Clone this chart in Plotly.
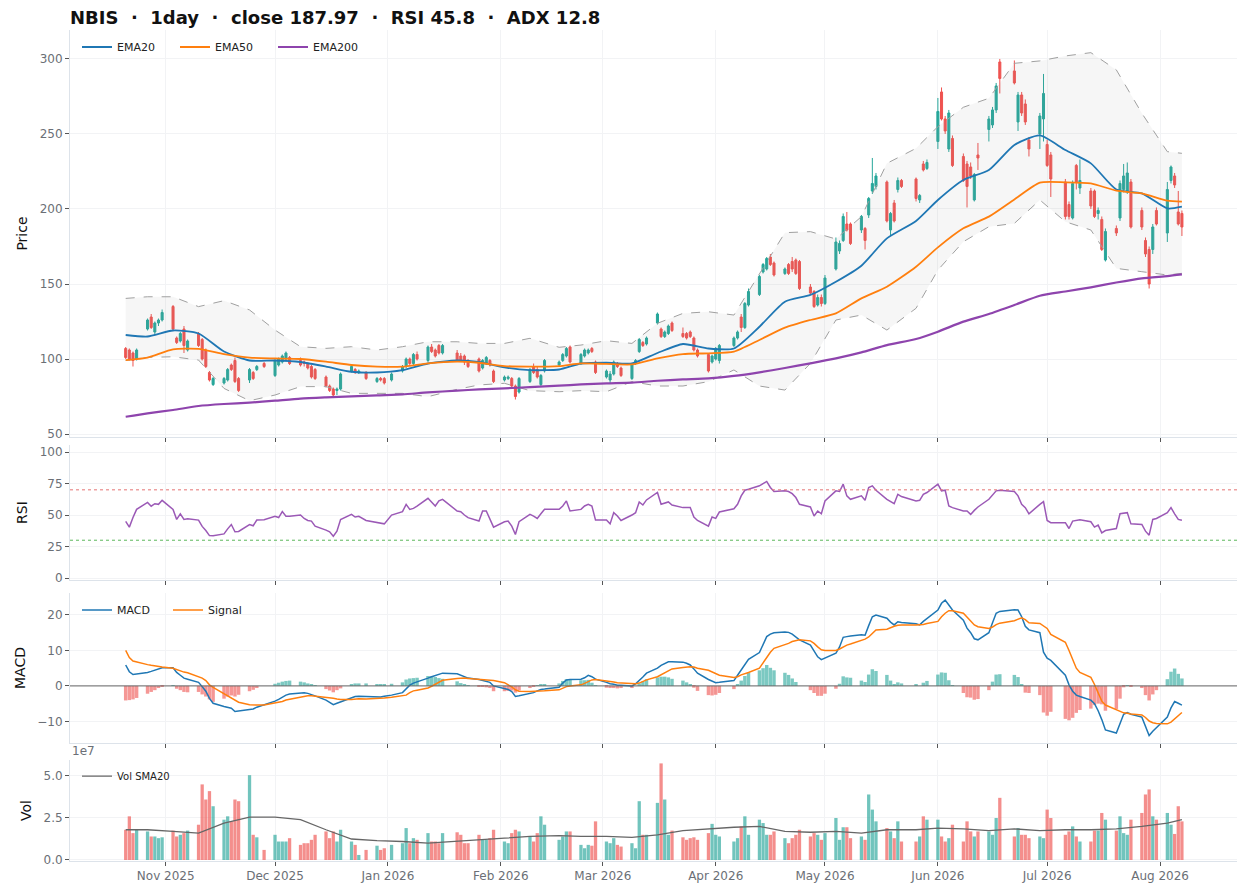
import pandas as pd
import plotly.graph_objects as go
from plotly.subplots import make_subplots

# trading days (weekday calendar minus US market holidays)
holidays = ["2025-11-27", "2025-12-25", "2026-01-01", "2026-01-19", "2026-02-16",
            "2026-04-03", "2026-05-25", "2026-06-19", "2026-07-03"]
dates = pd.bdate_range("2025-10-21", "2026-08-07")
dates = dates[~dates.isin(pd.to_datetime(holidays))]

# daily candles, one row per week
open_ = [107, 106, 104, 100,
         120, 128, 118, 124, 126,
         135, 114, 112, 120, 106,
         117, 113, 106, 91, 83,
         84, 86, 96, 99, 87,
         86, 91, 93, 97,
         89, 96, 98, 100, 101,
         99, 98, 97, 95, 93,
         88, 82, 80, 79, 80,
         92, 93, 91, 91,
         85, 87, 87, 86,
         92, 95, 100, 97, 103,
         99, 108, 106, 109, 104,
         104, 102, 102, 99,
         100, 94, 97, 99, 92,
         86, 87, 87, 82, 78,
         85, 95, 93, 83, 92,
         96, 99, 102, 108,
         97, 102, 104, 107, 98,
         88, 86, 90, 97, 94,
         87, 97, 105, 111, 110,
         124, 120, 115, 117, 124,
         117, 117, 118, 114, 106,
         103, 98, 100, 99,
         109, 114, 128, 121, 136,
         143, 158, 160, 168, 164,
         157, 163, 165, 166, 165,
         148, 145, 136, 141, 137,
         160, 172, 179, 190, 190,
         186, 187, 196, 212, 215,
         218, 186, 204, 213, 219,
         220, 206, 230, 227,
         245, 278, 260, 240, 247,
         235, 230, 228, 206, 236,
         253, 256, 266, 298,
         292, 258, 276, 270, 246,
         250, 260, 243, 236,
         218, 203, 194, 229, 214,
         212, 212, 197, 193, 166,
         187, 194, 213, 212, 218,
         199, 179, 173, 173, 199,
         184, 219, 222, 198, 197]
high = [108, 107, 105, 107,
        127, 130, 125, 127, 133,
        136, 115, 118, 122, 113,
        118, 114, 107, 92, 88,
        88, 94, 97, 101, 88,
        94, 92, 96, 98,
        100, 101, 103, 105, 102,
        101, 99, 98, 96, 94,
        89, 83, 81, 81, 91,
        96, 94, 93, 92,
        88, 88, 88, 91,
        96, 101, 101, 104, 105,
        109, 110, 107, 110, 110,
        106, 104, 103, 100,
        101, 100, 102, 100, 93,
        89, 89, 88, 83, 88,
        94, 97, 95, 90, 100,
        99, 104, 108, 109,
        104, 107, 107, 108, 99,
        93, 92, 99, 98, 95,
        97, 100, 114, 112, 115,
        131, 121, 119, 123, 125,
        121, 118, 119, 115, 107,
        104, 103, 108, 110,
        115, 119, 130, 138, 147,
        156, 164, 168, 170, 165,
        161, 164, 168, 167, 166,
        150, 146, 143, 143, 156,
        181, 179, 197, 198, 191,
        196, 188, 208, 234, 224,
        219, 198, 206, 221, 220,
        221, 210, 232, 233,
        274, 281, 262, 266, 249,
        237, 232, 231, 224, 244,
        262, 268, 284, 300,
        299, 278, 278, 273, 248,
        264, 290, 246, 238,
        220, 205, 219, 230, 233,
        214, 213, 201, 195, 187,
        189, 219, 230, 231, 220,
        201, 181, 175, 190, 201,
        218, 229, 224, 212, 199]
low = [100, 99, 95, 99,
       119, 120, 116, 122, 125,
       119, 110, 111, 104, 105,
       108, 99, 94, 85, 82,
       83, 85, 92, 84, 78,
       84, 86, 92, 94,
       88, 95, 97, 99, 96,
       95, 95, 93, 87, 86,
       81, 78, 74, 76, 79,
       91, 90, 90, 86,
       84, 85, 83, 85,
       91, 94, 96, 96, 99,
       98, 104, 101, 103, 103,
       98, 98, 96, 94,
       91, 93, 96, 95, 84,
       85, 86, 81, 73, 77,
       84, 90, 87, 82, 91,
       95, 98, 101, 97,
       96, 101, 103, 104, 90,
       87, 84, 89, 94, 88,
       86, 96, 104, 108, 109,
       123, 114, 114, 116, 118,
       114, 113, 114, 105, 101,
       91, 97, 99, 97,
       108, 113, 118, 120, 135,
       142, 157, 159, 162, 155,
       156, 156, 158, 156, 146,
       143, 134, 135, 135, 136,
       159, 170, 178, 185, 176,
       184, 173, 194, 210, 213,
       191, 182, 191, 211, 214,
       205, 204, 225, 226,
       240, 259, 250, 238, 228,
       218, 201, 220, 205, 226,
       245, 254, 264, 277,
       283, 252, 262, 256, 235,
       240, 245, 228, 208,
       193, 193, 193, 213, 210,
       200, 194, 193, 172, 165,
       182, 192, 211, 210, 187,
       186, 168, 147, 170, 189,
       178, 217, 214, 189, 182]
close = [101, 100, 99, 106,
         126, 121, 124, 126, 131,
         120, 111, 117, 109, 112,
         109, 100, 95, 86, 87,
         87, 93, 93, 85, 79,
         93, 87, 95, 95,
         99, 100, 102, 104, 97,
         96, 97, 94, 88, 87,
         82, 79, 76, 80, 90,
         95, 91, 92, 87,
         87, 86, 84, 90,
         95, 100, 97, 103, 100,
         108, 105, 102, 104, 109,
         99, 99, 98, 95,
         92, 99, 101, 96, 85,
         88, 88, 82, 75, 87,
         93, 91, 88, 89, 99,
         98, 103, 107, 98,
         103, 106, 106, 105, 91,
         92, 90, 98, 95, 89,
         96, 99, 113, 109, 114,
         130, 115, 118, 122, 119,
         115, 114, 115, 106, 102,
         92, 102, 107, 109,
         114, 118, 121, 137, 145,
         155, 163, 167, 163, 156,
         160, 157, 160, 157, 147,
         144, 135, 141, 137, 154,
         178, 177, 195, 186, 177,
         195, 179, 207, 217, 222,
         192, 197, 192, 219, 215,
         207, 209, 226, 231,
         265, 260, 252, 264, 229,
         219, 215, 222, 223, 234,
         260, 266, 282, 287,
         284, 276, 264, 258, 240,
         262, 277, 229, 220,
         195, 195, 217, 218, 219,
         202, 195, 199, 173, 185,
         184, 217, 222, 224, 188,
         188, 170, 150, 188, 190,
         213, 228, 216, 190, 187.97]

# volume in units of 1e7
volume = [1.8, 2.6, 1.6, 1.8,
          1.7, 1.4, 1.4, 1.3, 1.35,
          1.75, 1.4, 1.5, 1.6, 1.75,
          2.1, 4.5, 3.6, 4.1, 3.2,
          2.4, 2.6, 2.3, 3.6, 3.5,
          5.05, 1.5, 1.35, 0.6,
          1.5, 1.1, 1.1, 1.1, 1.3,
          0.9, 1.0, 1.0, 1.2, 1.5,
          1.7, 1.3, 1.7, 1.1, 1.8,
          1.1, 0.9, 0.3, 0.6,
          0.85, 0.6, 0.7, 0.9,
          1.0, 1.9, 1.0, 1.3, 1.2,
          1.6, 1.1, 1.1, 1.0, 1.6,
          1.65, 1.5, 1.0, 1.0,
          1.5, 1.2, 1.2, 1.3, 1.8,
          1.1, 1.0, 1.6, 1.8, 1.7,
          1.4, 1.1, 1.6, 2.6, 2.1,
          1.2, 1.4, 1.7, 1.7,
          0.9, 0.7, 0.9, 0.85, 2.3,
          1.1, 1.0, 1.3, 0.9, 0.8,
          1.0, 0.7, 3.5, 1.5, 1.5,
          3.4, 5.75, 3.6, 1.5, 1.75,
          1.35, 1.2, 1.3, 1.35, 1.2,
          1.6, 2.15, 1.5, 1.4,
          1.1, 1.3, 2.0, 2.6, 1.5,
          2.4, 2.2, 1.5, 1.5, 1.7,
          1.3, 1.0, 1.3, 1.5, 1.8,
          1.4, 1.6, 1.5, 1.2, 1.6,
          2.5, 1.2, 1.95, 1.95, 1.3,
          1.4, 1.2, 3.9, 3.0, 2.3,
          1.9, 1.7, 1.3, 2.3, 1.1,
          1.1, 1.4, 2.6, 2.4,
          2.4, 1.4, 1.1, 1.3, 2.1,
          1.1, 2.3, 1.7, 1.4, 1.7,
          1.7, 1.5, 2.5, 3.7,
          1.4, 1.9, 1.5, 1.5, 1.3,
          1.4, 1.3, 3.0, 2.5,
          1.5, 1.7, 2.0, 1.4, 1.1,
          1.1, 1.75, 1.75, 2.8, 2.4,
          1.75, 2.6, 1.6, 1.5, 2.4,
          2.8, 3.9, 4.2, 2.6, 2.4,
          2.8, 2.1, 1.55, 3.2, 2.3]

rsi = [45, 40.4, 48, 54.5,
       60, 57, 59, 58.5, 61.7,
       54.5, 46.5, 51, 46.5, 47,
       46, 41, 37.7, 33.7, 33.5,
       35, 39, 42.5, 36.7, 37,
       42.5, 41.5, 46, 46.3,
       49, 48, 52.7, 49, 49,
       50, 47.3, 45.7, 45.2, 41.2,
       38, 36.7, 33.2, 37.2, 46.5,
       50.5, 48.4, 49, 45.7,
       44.4, 43.6, 43, 50,
       52.7, 58.5, 54.5, 55.3, 57,
       63.3, 59.9, 57.2, 61.2, 62.5,
       53.2, 52.7, 50, 47.9,
       45.2, 53.2, 53.2, 46.5, 40.4,
       44.7, 45.2, 41.2, 34.5, 44.7,
       50.5, 49.2, 47.3, 51, 54.5,
       54.5, 57.2, 61.2, 53.2,
       54.5, 57.2, 58.5, 57.2, 46,
       46, 43, 51.9, 49.2, 45.7,
       50, 51.9, 60.4, 58, 62,
       67.9, 58.5, 59.6, 60.4, 58,
       55.9, 55.9, 56, 48.4, 45.7,
       41.2, 48.4, 47.3, 52.4,
       55, 58.5, 65.2, 69.7, 70.5,
       73.2, 75, 76.7, 71.9, 68.7,
       69.2, 68.7, 67, 63.9, 58.5,
       56.4, 49.2, 53.2, 51, 61.2,
       69.2, 68.7, 74.5, 65.2, 62.5,
       65.2, 61.7, 71.9, 73.2, 69.7,
       62.5, 60.7, 59, 66.5, 64.7,
       61.2, 61.7, 66.5, 67.9,
       74.5, 69.2, 69.7, 57.2, 55.9,
       53.2, 53.2, 50.5, 53.7, 56.4,
       62.5, 66, 69.2, 69.7,
       68.7, 65.2, 58.5, 55.9, 51,
       58.5, 60.7, 45.7, 43.9,
       43.9, 39.3, 45.2, 46, 46.3,
       44.7, 40.4, 42, 35.9, 37.7,
       39.3, 51, 51.6, 51.9, 43,
       42.5, 37.2, 34, 46.5, 47.3,
       51.9, 55.9, 51, 46.5, 45.8]

macd = [5.9, 4.0, 3.2, 3.3,
        3.8, 4.1, 4.4, 4.8, 5.1,
        5.1, 3.8, 3.0, 2.2, 1.9,
        1.0, -0.2, -1.5, -3.5, -4.9,
        -5.8, -6.0, -6.3, -7.2, -7.1,
        -6.8, -6.5, -6.0, -5.4,
        -4.3, -3.8, -3.2, -2.6, -2.3,
        -1.9, -1.9, -2.1, -2.4, -2.8,
        -4.0, -4.6, -5.3, -4.9, -4.5,
        -3.4, -3.0, -2.9, -3.0,
        -3.2, -3.1, -2.9, -2.6,
        -1.9, -0.8, 0.2, 0.8, 1.1,
        2.2, 2.6, 3.0, 3.4, 3.6,
        3.4, 3.0, 2.5, 2.2,
        1.8, 1.6, 1.4, 1.0, 0.0,
        -0.6, -1.0, -1.6, -3.0, -2.8,
        -2.2, -1.9, -1.4, -1.0, -0.9,
        -0.4, 0.8, 1.7, 1.8,
        1.9, 2.3, 3.0, 2.6, 1.9,
        1.0, 0.6, 0.5, 0.2, 0.2,
        0.0, 0.6, 1.5, 2.5, 3.6,
        5.0, 5.8, 6.4, 6.8, 6.8,
        6.7, 6.4, 5.9, 4.8, 3.6,
        1.8, 1.3, 0.9, 1.0,
        1.5, 3.0, 4.6, 6.2, 7.5,
        9.4, 11.5, 13.9, 14.6, 15.0,
        15.2, 15.1, 14.6, 13.9, 13.0,
        11.5, 10.0, 8.2, 7.4, 7.8,
        9.2, 11.0, 13.7, 13.9, 14.1,
        14.4, 14.3, 17.0, 19.5, 20.0,
        19.1, 18.0, 17.2, 18.1, 17.9,
        17.5, 17.2, 18.2, 19.0,
        21.4, 23.3, 24.2, 22.8, 21.4,
        18.5, 16.3, 15.0, 13.3, 13.0,
        15.0, 17.8, 20.5, 21.0,
        21.5, 21.4, 19.5, 16.8, 15.8,
        15.0, 9.5, 7.8, 7.2,
        3.0, 0.3, -1.5, -2.6, -3.0,
        -4.0, -5.0, -7.0, -9.5, -12.4,
        -13.3, -10.8, -8.0, -7.5, -8.0,
        -8.8, -11.5, -14.0, -12.8, -11.8,
        -8.8, -6.2, -4.4, -4.9, -5.4]
signal = [10, 8.0, 7.0, 6.7,
          6.0, 5.8, 5.6, 5.4, 5.3,
          5.0, 4.6, 4.2, 3.9, 3.7,
          2.7, 2.2, 1.5, 0.3, -0.4,
          -2.2, -3.0, -3.6, -4.2, -4.6,
          -5.3, -5.4, -5.4, -5.4,
          -4.9, -4.7, -4.4, -4.0, -3.8,
          -3.1, -2.9, -2.8, -2.8, -2.9,
          -3.1, -3.3, -3.5, -3.7, -3.8,
          -3.8, -3.7, -3.6, -3.7,
          -3.6, -3.5, -3.4, -3.2,
          -2.9, -2.6, -1.9, -1.4, -1.2,
          -0.6, -0.1, 0.5, 1.2, 1.6,
          2.1, 2.2, 2.2, 2.1,
          1.9, 1.8, 1.8, 1.6, 1.5,
          0.9, 0.4, -0.3, -1.1, -1.5,
          -1.6, -1.6, -1.6, -1.5, -1.4,
          -1.1, -0.6, -0.2, 0.0,
          0.3, 0.7, 1.3, 1.7, 1.8,
          1.5, 1.2, 1.1, 0.9, 0.8,
          0.6, 0.6, 0.8, 1.2, 1.7,
          2.6, 3.2, 3.8, 4.4, 4.8,
          5.2, 5.4, 5.4, 5.3, 5.0,
          4.4, 4.0, 3.4, 3.0,
          2.4, 2.6, 3.1, 3.4, 3.8,
          5.0, 6.5, 8.0, 9.5, 10.6,
          11.5, 12.0, 12.5, 12.8, 13.0,
          12.7, 12.0, 11.0, 10.2, 10.0,
          10.0, 10.4, 11.0, 11.5, 11.8,
          12.9, 13.2, 13.8, 14.8, 15.8,
          16.0, 16.5, 16.8, 17.1, 17.2,
          17.2, 17.2, 17.3, 17.6,
          18.2, 19.5, 20.5, 21.2, 21.2,
          20.5, 19.5, 18.3, 17.2, 16.7,
          16.2, 16.6, 17.3, 17.7,
          18.4, 18.9, 19.2, 18.7, 17.8,
          17.6, 17.0, 16.2, 14.5,
          12.3, 10.0, 7.5, 5.0, 3.8,
          2.4, 0.4, -2.0, -4.3, -5.4,
          -6.8, -7.2, -7.6, -7.7, -7.9,
          -8.2, -8.9, -9.9, -10.4, -10.6,
          -10.7, -10.2, -9.3, -8.3, -7.5]

# smooth overlays, read once per week (first session of each week, plus the last day)
ema20 = [116, 115, 119, 117, 105, 99, 99, 98, 95, 91.5, 91, 92.6, 97, 99, 98, 94.4, 92.6,
         93, 97, 97.5, 97, 104, 110, 107, 107, 121.5, 138.2, 142.7, 151.5, 162.2, 180.4,
         192, 206, 219.3, 226, 242.7, 249, 239.3, 230.4, 213, 210.4, 200.4, 201.6]
ema50 = [99.3, 101, 106.4, 106.7, 103.3, 100.9, 100.4, 100, 98.2, 96, 94.9, 94.9, 97.1,
         98.2, 97.5, 95.3, 94.9, 95.3, 97.1, 96.7, 96.4, 100.4, 103.3, 103.8, 104.9, 112.7,
         120.9, 126, 130.4, 140.4, 148.2, 161.5, 174.4, 187.1, 194.9, 206.4, 217.6, 217.8,
         217.1, 212.2, 210.4, 205.5, 204.9]
ema200 = [61.5, 63.8, 66, 68.7, 70, 70.9, 72.2, 73.6, 74.4, 75.1, 75.8, 76.4, 77.8, 78.9,
          79.8, 80.4, 81.3, 82.2, 83.1, 83.8, 84.3, 85.5, 86.4, 87.1, 88.7, 91.1, 94, 97.1,
          100.4, 104.4, 109.3, 113.3, 118.2, 124.9, 130, 136, 142.2, 145, 147.8, 151, 153.8,
          155.3, 156.4]
bb_upper = [140.4, 141.5, 141.5, 134.9, 138.9, 132.7, 119.3, 108.2, 107.1, 108.2, 106,
            108.2, 111.5, 111.5, 110.4, 110.4, 113.8, 107.8, 109.3, 112.2, 110.4, 123.8,
            130.4, 131.5, 129.3, 157.1, 184.2, 184.9, 180, 194.9, 230.4, 240.4, 254.9,
            267.8, 273.8, 297.1, 298.7, 302, 304.2, 292.7, 263.8, 238.2, 237.1]
bb_lower = [99, 101.1, 101.5, 99.3, 80.4, 72.2, 76, 81.6, 81.6, 77.1, 77.1, 77.1, 74.9,
            79.8, 82.7, 83.8, 78.9, 78.2, 78.9, 78.2, 84.9, 82, 82, 84.9, 92.7, 82, 79.3,
            97.1, 126, 129.3, 119.3, 133.8, 159.3, 178.2, 188.2, 190.4, 206, 191.5, 186,
            160.4, 158.2, 156, 157.1]
vol_sma20 = [1.8, 1.8, 1.7, 1.6, 2.2, 2.55, 2.55, 2.4, 1.8, 1.25, 1.15, 1.1, 1.0, 1.1, 1.2,
             1.3, 1.4, 1.45, 1.4, 1.4, 1.35, 1.5, 1.75, 1.85, 1.95, 2.0, 1.7, 1.65, 1.7, 1.6,
             1.8, 1.8, 1.9, 1.85, 1.75, 1.85, 1.75, 1.8, 1.8, 1.85, 2.0, 2.2, 2.4]

title_text = "NBIS  ·  1day  ·  close 187.97  ·  RSI 45.8  ·  ADX 12.8"

assert len(dates) == len(open_) == len(high) == len(low) == len(close) == len(volume)
assert len(dates) == len(rsi) == len(macd) == len(signal)

s = pd.Series(dates)
wk = list(s.groupby(s.dt.strftime("%G-%V")).first()) + [dates[-1]]

UP, DOWN = "#26a69a", "#ef5350"
FONT = "DejaVu Sans"
day_ms = 86400000
# the page body has an 8px margin, so the figure is sized to fit inside it
W, H = 1231, 878

is_up = [c >= o for o, c in zip(open_, close)]
vol_colors = [UP if u else DOWN for u in is_up]
hist = [m - sg for m, sg in zip(macd, signal)]
hist_colors = [UP if h >= 0 else DOWN for h in hist]

fig = make_subplots(rows=4, cols=1, shared_xaxes=True, vertical_spacing=0.01)

# Bollinger band envelope
fig.add_trace(go.Scatter(x=wk, y=bb_lower, mode="lines", showlegend=False, hoverinfo="skip",
                         line=dict(color="#a0a0a0", width=1, dash="dash")), row=1, col=1)
fig.add_trace(go.Scatter(x=wk, y=bb_upper, mode="lines", showlegend=False, hoverinfo="skip",
                         fill="tonexty", fillcolor="rgba(150,150,150,0.09)",
                         line=dict(color="#a0a0a0", width=1, dash="dash")), row=1, col=1)

fig.add_trace(go.Candlestick(x=dates, open=open_, high=high, low=low, close=close,
                             showlegend=False, whiskerwidth=0,
                             increasing=dict(line=dict(color=UP, width=1), fillcolor=UP),
                             decreasing=dict(line=dict(color=DOWN, width=1), fillcolor=DOWN)),
              row=1, col=1)

for name, vals, col, w in [("EMA20", ema20, "#1f77b4", 1.8), ("EMA50", ema50, "#ff7f0e", 1.8),
                           ("EMA200", ema200, "#8e44ad", 2.2)]:
    fig.add_trace(go.Scatter(x=wk, y=vals, name=name, mode="lines", legend="legend",
                             line=dict(color=col, width=w, shape="spline", smoothing=0.6)),
                  row=1, col=1)

# RSI
fig.add_trace(go.Scatter(x=dates, y=rsi, mode="lines", showlegend=False,
                         line=dict(color="#9b59b6", width=1.5)), row=2, col=1)
fig.add_hline(y=70, line=dict(color="#e57373", width=1, dash="dot"), row=2, col=1)
fig.add_hline(y=30, line=dict(color="#5cb85c", width=1, dash="dot"), row=2, col=1)

# MACD
fig.add_trace(go.Bar(x=dates, y=hist, marker=dict(color=hist_colors, line_width=0),
                     opacity=0.6, width=day_ms * 0.95, showlegend=False), row=3, col=1)
fig.add_hline(y=0, line=dict(color="#666666", width=1), row=3, col=1)
fig.add_trace(go.Scatter(x=dates, y=macd, name="MACD", mode="lines", legend="legend2",
                         line=dict(color="#1f77b4", width=1.5)), row=3, col=1)
fig.add_trace(go.Scatter(x=dates, y=signal, name="Signal", mode="lines", legend="legend2",
                         line=dict(color="#ff7f0e", width=1.5)), row=3, col=1)

# volume
fig.add_trace(go.Bar(x=dates, y=[v * 1e7 for v in volume],
                     marker=dict(color=vol_colors, line_width=0),
                     opacity=0.65, width=day_ms * 0.9, showlegend=False), row=4, col=1)
fig.add_trace(go.Scatter(x=wk, y=[v * 1e7 for v in vol_sma20], name="Vol SMA20", mode="lines",
                         legend="legend3", line=dict(color="#666666", width=1.3)), row=4, col=1)

axis_style = dict(showgrid=True, gridcolor="#f2f3f5", gridwidth=1, zeroline=False,
                  showline=True, linecolor="#dde3ea", linewidth=1,
                  ticks="outside", ticklen=4, tickcolor="#555555",
                  tickfont=dict(family=FONT, size=12, color="#6b6f76"))
fig.update_xaxes(**axis_style)
fig.update_yaxes(**axis_style)
fig.update_xaxes(type="date", dtick="M1", tickformat="%b %Y",
                 range=["2025-10-05 17:00", "2026-08-22 03:00"], rangeslider_visible=False)

ytitle = dict(font=dict(family=FONT, size=14, color="#111111"), standoff=8)
leg = dict(xanchor="left", yanchor="top", orientation="h", traceorder="normal",
           bgcolor="rgba(255,255,255,0)", itemwidth=30, entrywidthmode="pixels")
fig.update_layout(
    width=W, height=H,
    margin=dict(l=62, r=2, t=22, b=25),
    paper_bgcolor="white", plot_bgcolor="white",
    font=dict(family=FONT, size=12, color="#222222"),
    boxgap=0.2,
    title=dict(text="<b>" + title_text + "</b>", x=62 / W, xanchor="left",
               y=1 - 10 / H, yanchor="middle", font=dict(family=FONT, size=18, color="#111111")),
    yaxis=dict(domain=[0.5102, 1.0], range=[48, 319.3], dtick=50, title=dict(text="Price", **ytitle)),
    yaxis2=dict(domain=[0.3381, 0.5006], range=[-1.6, 105.6], tickvals=[0, 25, 50, 75, 100],
                title=dict(text="RSI", **ytitle)),
    yaxis3=dict(domain=[0.1420, 0.3225], range=[-16.1, 26.2], tickvals=[-10, 0, 10, 20],
                title=dict(text="MACD", **ytitle)),
    yaxis4=dict(domain=[0, 0.1215], range=[-0.06e7, 5.95e7], tickvals=[0, 2.5e7, 5e7],
                ticktext=["0.0", "2.5", "5.0"], title=dict(text="Vol", **ytitle)),
    legend=dict(x=0.006, y=0.997, entrywidth=53,
                font=dict(family=FONT, size=11, color="#222222"), **leg),
    legend2=dict(x=0.006, y=0.3195, entrywidth=46,
                 font=dict(family=FONT, size=11, color="#222222"), **leg),
    legend3=dict(x=0.006, y=0.1195, font=dict(family=FONT, size=10, color="#222222"), **leg),
    annotations=[dict(text="1e7", xref="paper", yref="paper", x=0, y=0.1215, xanchor="left",
                      yanchor="bottom", showarrow=False,
                      font=dict(family=FONT, size=12, color="#6b6f76"))],
)

fig.write_html("out.html")
